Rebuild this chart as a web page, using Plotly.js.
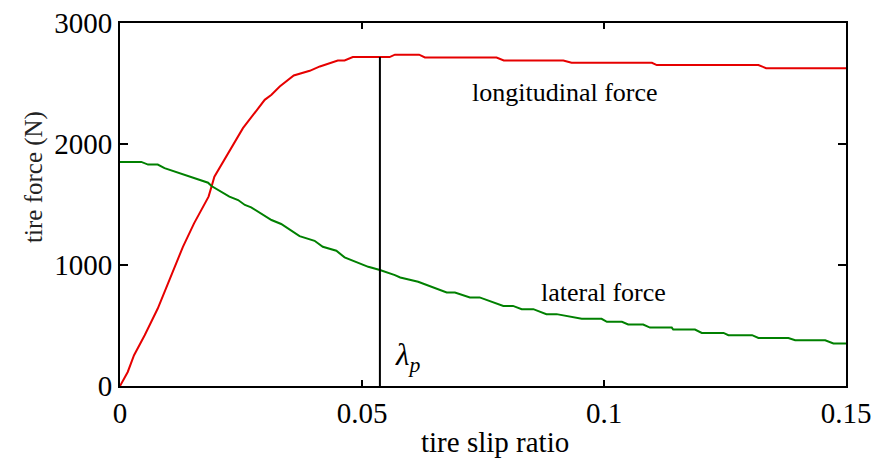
<!DOCTYPE html>
<html>
<head>
<meta charset="utf-8">
<script src="https://cdn.plot.ly/plotly-3.0.1.min.js"></script>
<style>html,body{margin:0;padding:0;background:#fff;}#chart{width:876px;height:459px;}</style>
</head>
<body>
<div id="chart"></div>
<script>
// Longitudinal force (red)
var longSlip = [0, 0.0016, 0.0029, 0.0051, 0.0078, 0.0091, 0.0120, 0.0130, 0.0153, 0.0183, 0.0190, 0.0195, 0.0254, 0.0299, 0.0313, 0.0330, 0.0359, 0.0392, 0.0413, 0.0450, 0.0464, 0.0481, 0.0557, 0.0568, 0.0618, 0.0630, 0.0778, 0.0793, 0.0916, 0.0933, 0.1099, 0.1109, 0.1319, 0.1335, 0.15];
var longForce = [0, 116, 254, 420, 640, 765, 1040, 1150, 1344, 1565, 1660, 1730, 2131, 2365, 2407, 2475, 2566, 2605, 2641, 2690, 2690, 2718, 2718, 2738, 2738, 2715, 2715, 2690, 2690, 2671, 2671, 2652, 2652, 2627, 2627];
// Lateral force (green)
var latSlip = [0, 0.0044, 0.0058, 0.0078, 0.0092, 0.0123, 0.0137, 0.0182, 0.0189, 0.0209, 0.0226, 0.0244, 0.0258, 0.0271, 0.0313, 0.0333, 0.0371, 0.0402, 0.0419, 0.0447, 0.0464, 0.0513, 0.0537, 0.0568, 0.0579, 0.0616, 0.0675, 0.0692, 0.0723, 0.0743, 0.0764, 0.0792, 0.0812, 0.0830, 0.0854, 0.0881, 0.0902, 0.0926, 0.0954, 0.0995, 0.1006, 0.1037, 0.1050, 0.1081, 0.1095, 0.1140, 0.1143, 0.1188, 0.1202, 0.1247, 0.1257, 0.1306, 0.1319, 0.1381, 0.1395, 0.1457, 0.1474, 0.15];
var latForce = [1852, 1852, 1830, 1830, 1800, 1758, 1736, 1680, 1653, 1606, 1565, 1537, 1496, 1477, 1372, 1339, 1239, 1200, 1151, 1118, 1063, 985, 958, 916, 897, 861, 773, 773, 732, 732, 704, 662, 662, 635, 635, 594, 594, 577, 555, 555, 530, 530, 508, 508, 483, 483, 467, 467, 439, 439, 420, 420, 397, 397, 378, 378, 351, 351];
// Peak slip marker
var peakSlip = [0.0537, 0.0537];
var peakForce = [0, 2718];
// Ticks
var xTicks = [0, 0.05, 0.1, 0.15];
var xTickLabels = ["0", "0.05", "0.1", "0.15"];
var yTicks = [0, 1000, 2000, 3000];
var yTickLabels = ["0", "1000", "2000", "3000"];
// Labels
var labelLong = "longitudinal force";
var labelLat = "lateral force";
var labelPeak = "<i>λ</i><sub><i>p</i></sub>";
var labelX = "tire slip ratio";
var labelY = "tire force (N)";

var F = "Liberation Serif";

var traces = [
  {x: longSlip, y: longForce, mode: "lines", line: {color: "#e60000", width: 2}, hoverinfo: "skip"},
  {x: latSlip, y: latForce, mode: "lines", line: {color: "#008000", width: 2}, hoverinfo: "skip"},
  {x: peakSlip, y: peakForce, mode: "lines", line: {color: "#000000", width: 2}, hoverinfo: "skip"}
];

var layout = {
  width: 876, height: 459,
  margin: {l: 120, r: 30, t: 23, b: 73, pad: 0},
  paper_bgcolor: "#ffffff", plot_bgcolor: "#ffffff",
  showlegend: false,
  font: {family: F, color: "#000000", size: 24},
  xaxis: {
    range: [0, 0.15], tickvals: xTicks, ticktext: xTickLabels,
    ticks: "inside", ticklen: 6, tickwidth: 2, tickcolor: "#000000",
    showline: true, linewidth: 2, linecolor: "#000000", mirror: "ticks",
    showgrid: false, zeroline: false,
    tickfont: {family: F, size: 29, color: "#000000"}
  },
  yaxis: {
    range: [0, 3000], tickvals: yTicks, ticktext: yTickLabels,
    ticks: "inside", ticklen: 8, tickwidth: 2, tickcolor: "#000000",
    showline: true, linewidth: 2, linecolor: "#000000", mirror: "ticks",
    showgrid: false, zeroline: false,
    tickfont: {family: F, size: 29, color: "#000000"}
  },
  annotations: [
    {x: 0.0920, y: 2423, xref: "x", yref: "y", text: labelLong, showarrow: false,
     font: {family: F, size: 26, color: "#000000"}, xanchor: "center", yanchor: "middle"},
    {x: 0.0999, y: 776, xref: "x", yref: "y", text: labelLat, showarrow: false,
     font: {family: F, size: 26, color: "#000000"}, xanchor: "center", yanchor: "middle"},
    {x: 0.0565, y: 238, xref: "x", yref: "y", text: labelPeak, showarrow: false,
     font: {family: F, size: 31, color: "#000000"}, xanchor: "left", yanchor: "middle"},
    {x: 0.5166, y: 0, xref: "paper", yref: "paper", text: labelX, showarrow: false,
     yshift: -56, xanchor: "center", yanchor: "middle",
     font: {family: F, size: 29, color: "#000000"}},
    {x: 0, y: 0.576, xref: "paper", yref: "paper", text: labelY, showarrow: false,
     textangle: -90, xshift: -86, xanchor: "center", yanchor: "middle",
     font: {family: F, size: 25, color: "#222222"}}
  ]
};

Plotly.newPlot("chart", traces, layout, {displayModeBar: false});
</script>
</body>
</html>
